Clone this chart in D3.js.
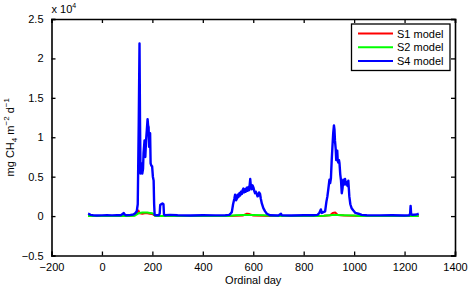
<!DOCTYPE html>
<html>
<head>
<meta charset="utf-8">
<script src="https://cdn.jsdelivr.net/npm/d3@7"></script>
<style>
  body { margin: 0; background: #fff; }
  text { font-family: "Liberation Sans", Arial, sans-serif; fill: #000; }
</style>
</head>
<body>
<div class="chart"></div>
<script>
// series values (mg CH4 m-2 d-1)
var s4Days = [-55, -50, -45, -35, -20, 0, 20, 40, 60, 75, 82, 86, 90, 95, 110, 125, 132, 138, 142, 146,
  149, 151, 153, 156, 160, 163, 165, 169, 172, 175, 178, 181, 183, 185, 187, 189, 191, 193, 196, 199,
  202, 205, 207, 209, 215, 225, 229, 231, 235, 240, 244, 246, 250, 270, 300, 350, 400, 450, 490, 505,
  511, 515, 520, 525, 528, 532, 535, 538, 541, 545, 548, 551, 555, 558, 561, 564, 568, 571, 574, 578,
  581, 584, 588, 591, 594, 597, 601, 604, 607, 610, 614, 617, 620, 623, 627, 630, 634, 640, 647, 654,
  667, 700, 710, 713, 750, 800, 840, 855, 862, 868, 872, 878, 885, 890, 894, 898, 902, 905, 908, 911,
  914, 917, 920, 922, 924, 927, 929, 931, 933, 935, 937, 940, 942, 945, 948, 951, 954, 957, 960, 964,
  968, 971, 974, 977, 979, 981, 985, 990, 997, 1005, 1017, 1030, 1050, 1100, 1150, 1200, 1218, 1222, 1224, 1226,
  1230, 1245, 1252, 1256];
var s4Vals = [300, 250, 150, 100, 80, 90, 100, 90, 110, 100, 250, 400, 200, 100, 120, 200, 350, 600, 1500, 12000,
  21900, 12000, 5400, 6700, 5400, 6000, 8000, 9600, 7500, 9600, 10900, 12300, 11500, 11300, 8800, 9000, 10500, 6700, 6400, 6300,
  5000, 4500, 1500, 150, 100, 100, 300, 1400, 1500, 1600, 1500, 200, 100, 150, 100, 80, 100, 90, 100, 150,
  350, 500, 1500, 2200, 2700, 2000, 2200, 2700, 2400, 2900, 2600, 3100, 2800, 3300, 3500, 3000, 3400, 3100, 3600, 3200,
  3700, 3300, 4700, 3600, 3400, 3900, 3600, 3200, 2900, 3100, 2800, 2500, 2600, 3000, 2800, 2200, 1600, 1000, 600, 300,
  100, 80, 300, 100, 80, 100, 100, 150, 400, 850, 400, 500, 600, 1800, 2500, 3500, 4600, 4200, 4800, 7000,
  8800, 10500, 11500, 11000, 9600, 8500, 7100, 8000, 8300, 7000, 6800, 7100, 6700, 5300, 4500, 2900, 3500, 4600, 4000, 4700,
  4000, 4300, 3800, 4500, 3500, 2500, 1500, 1000, 700, 400, 300, 150, 100, 90, 100, 80, 100, 300, 1300, 300,
  150, 200, 250, 300];

var lowDays = [-55, 0, 100, 130, 140, 145, 150, 160, 170, 180, 190, 200, 206, 212, 300, 500, 530, 560,
  575, 585, 600, 640, 670, 700, 850, 880, 905, 915, 925, 935, 960, 1000, 1020, 1100, 1256];
var s1Vals = [0, 0, 0, 100, 500, 700, 350, 300, 350, 350, 300, 250, 150, 0, 0, 0, 30, 80,
  300, 250, 80, 30, 0, 0, 0, 30, 100, 400, 450, 150, 80, 30, 0, 0, 0];
var s2Vals = [0, 0, 0, 50, 250, 350, 400, 450, 450, 450, 400, 350, 250, 0, 0, 0, 100, 150,
  150, 150, 150, 100, 30, 0, 0, 50, 120, 150, 150, 150, 120, 80, 20, 0, 0];

var seriesNames = ["S1 model", "S2 model", "S4 model"];
var seriesColors = ["#ff0000", "#00ff00", "#0000ff"];
var xTicks = [-200, 0, 200, 400, 600, 800, 1000, 1200, 1400];
var yTicks = [-5000, 0, 5000, 10000, 15000, 20000, 25000];

var width = 471, height = 288;
var plotL = 51.5, plotR = 455, plotT = 19, plotB = 255.5;

var svg = d3.select(".chart").append("svg")
  .attr("width", width)
  .attr("height", height);

var x = d3.scaleLinear().domain([-200, 1400]).range([plotL, plotR]);
var y = d3.scaleLinear().domain([-5000, 25000]).range([plotB, plotT]);

var line = d3.line()
  .x(function(d) { return x(d[0]); })
  .y(function(d) { return y(d[1]); });

var series = [
  d3.zip(lowDays, s1Vals),
  d3.zip(lowDays, s2Vals),
  d3.zip(s4Days, s4Vals)
];

svg.append("defs").append("clipPath").attr("id", "clip")
  .append("rect").attr("x", plotL).attr("y", plotT)
  .attr("width", plotR - plotL).attr("height", plotB - plotT);

svg.append("g").attr("clip-path", "url(#clip)")
  .selectAll("path")
  .data(series)
  .join("path")
  .attr("d", line)
  .attr("fill", "none")
  .attr("stroke", function(d, i) { return seriesColors[i]; })
  .attr("stroke-width", function(d, i) { return i == 2 ? 2.4 : 2; })
  .attr("stroke-linejoin", "round");

// axes, MATLAB style box with inward ticks on all sides
var fmtY = function(d) { return d3.format("")(d / 10000); };
svg.append("g").attr("transform", "translate(0," + plotB + ")")
  .call(d3.axisBottom(x).tickValues(xTicks).tickSize(-4).tickPadding(8).tickFormat(d3.format("")));
svg.append("g").attr("transform", "translate(0," + plotT + ")")
  .call(d3.axisTop(x).tickValues(xTicks).tickSize(-4).tickFormat(""));
svg.append("g").attr("transform", "translate(" + plotL + ",0)")
  .call(d3.axisLeft(y).tickValues(yTicks).tickSize(-4).tickPadding(8).tickFormat(fmtY));
svg.append("g").attr("transform", "translate(" + plotR + ",0)")
  .call(d3.axisRight(y).tickValues(yTicks).tickSize(-4).tickFormat(""));

svg.selectAll(".domain").attr("stroke", "#000").attr("stroke-width", 1.6);
svg.selectAll(".tick line").attr("stroke", "#000").attr("stroke-width", 1.3);
svg.selectAll(".tick text")
  .style("font-family", "'Liberation Sans', Arial, sans-serif")
  .style("font-size", "11px").attr("fill", "#000");

// exponent label
var ex = svg.append("text").attr("x", plotL).attr("y", 13).style("font-size", "11px");
ex.append("tspan").text("x 10");
ex.append("tspan").attr("dy", -5).style("font-size", "7px").text("4");

// axis titles
svg.append("text")
  .attr("x", (plotL + plotR) / 2).attr("y", 284)
  .attr("text-anchor", "middle").style("font-size", "11px")
  .text("Ordinal day");

var yl = svg.append("text")
  .attr("transform", "translate(14," + (plotT + plotB) / 2 + ") rotate(-90)")
  .attr("text-anchor", "middle").style("font-size", "11px");
yl.append("tspan").text("mg CH");
yl.append("tspan").attr("dy", 3).style("font-size", "8px").text("4");
yl.append("tspan").attr("dy", -3).text(" m");
yl.append("tspan").attr("dy", -5).style("font-size", "8px").text("\u22122");
yl.append("tspan").attr("dy", 5).text(" d");
yl.append("tspan").attr("dy", -5).style("font-size", "8px").text("\u22121");

// legend
var lg = svg.append("g");
lg.append("rect")
  .attr("x", 351.5).attr("y", 24).attr("width", 98.5).attr("height", 46.5)
  .attr("fill", "#fff").attr("stroke", "#000").attr("stroke-width", 1.3);
var rows = lg.selectAll("g.row").data(seriesNames).join("g")
  .attr("class", "row")
  .attr("transform", function(d, i) { return "translate(0," + (33.5 + i * 13.8) + ")"; });
rows.append("line")
  .attr("x1", 358).attr("x2", 393).attr("y1", 0).attr("y2", 0)
  .attr("stroke", function(d, i) { return seriesColors[i]; })
  .attr("stroke-width", 2);
rows.append("text")
  .attr("x", 397).attr("y", 4)
  .style("font-size", "11px")
  .text(function(d) { return d; });
</script>
</body>
</html>
